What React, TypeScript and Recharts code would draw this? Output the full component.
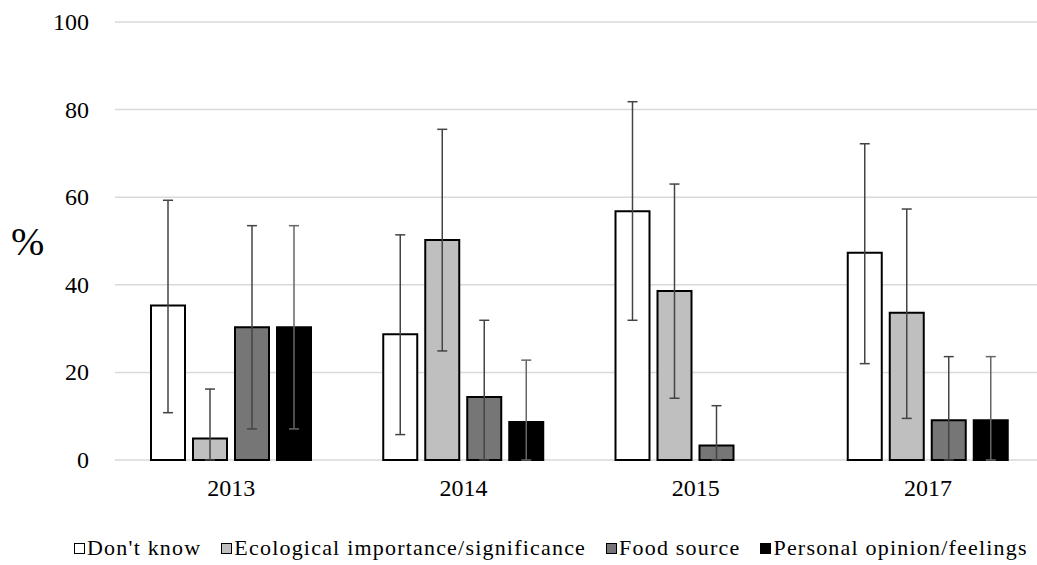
import React from 'react';
import { BarChart, Bar, XAxis, YAxis, CartesianGrid, ErrorBar } from 'recharts';

const years = ['2013', '2014', '2015', '2017'];
const dontKnow = [35.3, 28.7, 56.8, 47.3];
const dontKnowErr = [[24.5, 24.0], [22.9, 22.7], [24.9, 25.0], [25.3, 24.9]];
const ecological = [4.9, 50.2, 38.6, 33.6];
const ecologicalErr = [[4.9, 11.3], [25.3, 25.3], [24.5, 24.4], [24.1, 23.7]];
const food = [30.3, 14.4, 3.3, 9.1];
const foodErr = [[23.2, 23.2], [14.4, 17.5], [3.3, 9.1], [9.1, 14.5]];
const personal: (number | null)[] = [30.3, 8.7, null, 9.1];
const personalErr: (number[] | null)[] = [[23.2, 23.2], [8.7, 14.1], null, [9.1, 14.5]];
const yTicks = [0, 20, 40, 60, 80, 100];

const seriesNames = ["Don't know", 'Ecological importance/significance', 'Food source', 'Personal opinion/feelings'];
const seriesFills = ['#ffffff', '#bfbfbf', '#767676', '#000000'];

const data = years.map((y, i) => ({
  year: y,
  dk: dontKnow[i],
  dkErr: dontKnowErr[i],
  eco: ecological[i],
  ecoErr: ecologicalErr[i],
  food: food[i],
  foodErr: foodErr[i],
  pers: personal[i],
  persErr: personalErr[i],
}));

const FONT = '"Liberation Serif", "Times New Roman", serif';

const YTick = (props: any) => {
  const { x, y, payload } = props;
  return (
    <text x={x} y={y} dy={8} textAnchor="end" fontFamily={FONT} fontSize={24} fill="#000">
      {payload.value}
    </text>
  );
};

const XTick = (props: any) => {
  const { x, y, payload } = props;
  return (
    <text x={x} y={y} dy={28} textAnchor="middle" fontFamily={FONT} fontSize={24} fill="#000">
      {payload.value}
    </text>
  );
};

const LegendBox = () => (
  <div style={{ position: 'absolute', top: 535, left: 74, display: 'flex', alignItems: 'center', fontFamily: FONT, fontSize: 22, letterSpacing: 1.2, color: '#000', whiteSpace: 'nowrap' }}>
    {seriesNames.map((n, i) => (
      <div key={n} style={{ display: 'flex', alignItems: 'center', marginRight: 20 }}>
        <span style={{ display: 'inline-block', width: 9, height: 9, border: '1.5px solid #000', background: seriesFills[i], marginRight: 2 }} />
        <span>{n}</span>
      </div>
    ))}
  </div>
);

const errStroke = '#444';

export default function App() {
  return (
    <div style={{ position: 'absolute', left: 0, top: 0, width: 1037, height: 565, overflow: 'hidden', background: '#fff' }}>
      <BarChart
        width={1060}
        height={565}
        data={data}
        margin={{ top: 22, right: 16, left: 0, bottom: 65 }}
        barSize={34}
        barGap={8}
      >
        <CartesianGrid vertical={false} stroke="#d9d9d9" strokeWidth={1.5} />
        <XAxis dataKey="year" axisLine={false} tickLine={false} tick={<XTick />} height={40} interval={0} />
        <YAxis
          domain={[0, 100]}
          ticks={yTicks}
          axisLine={false}
          tickLine={false}
          width={115}
          tick={<YTick />}
          tickMargin={20}
          label={{ value: '%', position: 'insideLeft', dx: 6, style: { fontFamily: FONT, fontSize: 40, fill: '#000', textAnchor: 'start' } }}
        />
        <Bar dataKey="dk" fill={seriesFills[0]} stroke="#000" strokeWidth={2} isAnimationActive={false}>
          <ErrorBar dataKey="dkErr" width={5} stroke={errStroke} strokeWidth={1.5} />
        </Bar>
        <Bar dataKey="eco" fill={seriesFills[1]} stroke="#000" strokeWidth={2} isAnimationActive={false}>
          <ErrorBar dataKey="ecoErr" width={5} stroke={errStroke} strokeWidth={1.5} />
        </Bar>
        <Bar dataKey="food" fill={seriesFills[2]} stroke="#000" strokeWidth={2} isAnimationActive={false}>
          <ErrorBar dataKey="foodErr" width={5} stroke={errStroke} strokeWidth={1.5} />
        </Bar>
        <Bar dataKey="pers" fill={seriesFills[3]} stroke="#000" strokeWidth={2} isAnimationActive={false}>
          <ErrorBar dataKey="persErr" width={5} stroke="#666" strokeWidth={1.5} />
        </Bar>
      </BarChart>
      <LegendBox />
    </div>
  );
}
